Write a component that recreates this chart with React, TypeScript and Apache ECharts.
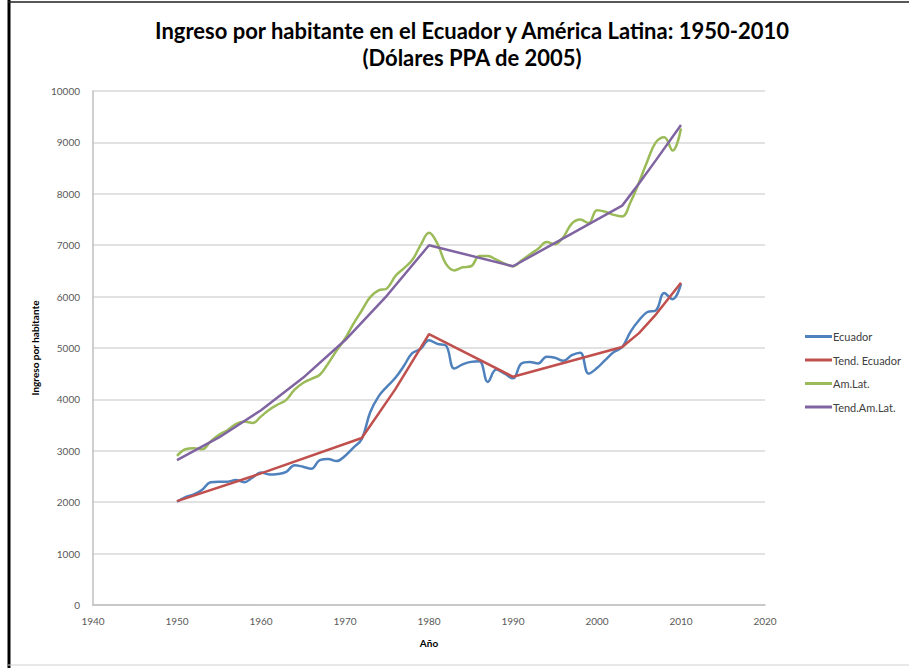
import { useEffect, useRef } from 'react';
import * as echarts from 'echarts';

// Annual series 1950-2010
const years = [
  1950, 1951, 1952, 1953, 1954, 1955, 1956, 1957, 1958, 1959,
  1960, 1961, 1962, 1963, 1964, 1965, 1966, 1967, 1968, 1969,
  1970, 1971, 1972, 1973, 1974, 1975, 1976, 1977, 1978, 1979,
  1980, 1981, 1982, 1983, 1984, 1985, 1986, 1987, 1988, 1989,
  1990, 1991, 1992, 1993, 1994, 1995, 1996, 1997, 1998, 1999,
  2000, 2001, 2002, 2003, 2004, 2005, 2006, 2007, 2008, 2009,
  2010,
];

const ecuador = [
  2010, 2100, 2150, 2240, 2390, 2400, 2400, 2430, 2390, 2480,
  2580, 2540, 2550, 2590, 2720, 2690, 2650, 2820, 2840, 2800,
  2900, 3060, 3230, 3750, 4060, 4250, 4420, 4650, 4900, 4980,
  5150, 5080, 5050, 4600, 4680, 4730, 4740, 4340, 4580, 4500,
  4410, 4700, 4730, 4700, 4830, 4810, 4750, 4860, 4910, 4500,
  4610, 4770, 4920, 5020, 5320, 5540, 5700, 5730, 6070, 5950,
  6250,
];

const amLat = [
  2900, 3030, 3050, 3030, 3180, 3310, 3400, 3520, 3570, 3540,
  3670, 3800, 3900, 3990, 4190, 4320, 4400, 4480, 4700, 4950,
  5180, 5470, 5730, 5990, 6120, 6160, 6400, 6550, 6710, 7000,
  7240, 7030, 6640, 6510, 6570, 6590, 6790, 6790, 6720, 6640,
  6590, 6700, 6820, 6930, 7060, 7020, 7160, 7420, 7500, 7430,
  7680, 7650, 7590, 7560, 7840, 8220, 8640, 9000, 9100, 8840,
  9270,
];

// Trend lines (break points)
const tendEcuadorYears = [1950, 1960, 1972, 1976, 1980, 1990, 2003, 2005, 2007, 2010];
const tendEcuador = [2020, 2560, 3250, 4200, 5270, 4440, 5020, 5290, 5650, 6270];

const tendAmLatYears = [1950, 1955, 1960, 1965, 1970, 1975, 1980, 1990, 2003, 2005, 2007, 2010];
const tendAmLat = [2820, 3260, 3790, 4420, 5150, 6020, 7000, 6590, 7770, 8200, 8650, 9340];

const seriesNames = ['Ecuador', 'Tend. Ecuador', 'Am.Lat.', 'Tend.Am.Lat.'];
const seriesColors = ['#4F81BD', '#C0504D', '#9BBB59', '#8064A2'];

const xTicks = [1940, 1950, 1960, 1970, 1980, 1990, 2000, 2010, 2020];

const zip = (xs: number[], ys: number[]) => xs.map((x, i) => [x, ys[i]]);

export default function App() {
  const chartRef = useRef<HTMLDivElement>(null);

  useEffect(() => {
    document.body.style.margin = '0';
    if (!chartRef.current) return;
    const chart = echarts.init(chartRef.current, undefined, { renderer: 'svg' });

    const labelStyle = {
      fontSize: 10,
      color: '#595959',
      fontFamily: 'Lato',
    };

    const option: echarts.EChartsOption = {
      animation: false,
      backgroundColor: '#ffffff',
      color: seriesColors,
      title: {
        text: 'Ingreso por habitante en el Ecuador y América Latina: 1950-2010\n(Dólares PPA de 2005)',
        left: 467,
        top: 12,
        textAlign: 'center',
        textStyle: {
          fontSize: 22,
          fontWeight: 'bold',
          color: '#000000',
          fontFamily: 'Lato',
          lineHeight: 27,
        },
      },
      legend: {
        orient: 'vertical',
        left: 800,
        top: 326,
        itemWidth: 27,
        itemHeight: 3,
        itemGap: 12.5,
        icon: 'rect',
        data: seriesNames,
        textStyle: {
          fontSize: 11,
          color: '#404040',
          fontFamily: 'Lato',
          padding: [0, 0, 0, -4],
        },
      },
      grid: {
        left: 93,
        right: 144,
        top: 91,
        bottom: 63,
      },
      xAxis: {
        type: 'value',
        min: 1940,
        max: 2020,
        interval: 10,
        name: 'Año',
        nameLocation: 'middle',
        nameGap: 33,
        nameTextStyle: {
          fontSize: 10,
          fontWeight: 'bold',
          color: '#000000',
          fontFamily: 'Lato',
        },
        axisLine: { show: true, lineStyle: { color: '#bfbfbf', width: 1.5 } },
        axisTick: { show: false },
        splitLine: { show: false },
        axisLabel: {
          ...labelStyle,
          margin: 11,
          formatter: (v: number) => (xTicks.includes(v) ? String(v) : ''),
        },
      },
      yAxis: {
        type: 'value',
        min: 0,
        max: 10000,
        interval: 1000,
        name: 'Ingreso por habitante',
        nameLocation: 'middle',
        nameGap: 50,
        nameTextStyle: {
          fontSize: 10,
          fontWeight: 'bold',
          color: '#000000',
          fontFamily: 'Lato',
        },
        axisLine: { show: true, lineStyle: { color: '#bfbfbf', width: 1.5 } },
        axisTick: { show: false },
        splitLine: { show: true, lineStyle: { color: '#d9d9d9', width: 1.5 } },
        axisLabel: { ...labelStyle, margin: 13, formatter: (v: number) => String(v) },
      },
      series: [
        {
          name: seriesNames[0],
          type: 'line',
          data: zip(years, ecuador),
          smooth: 0.4,
          symbol: 'none',
          lineStyle: { width: 2.5, color: seriesColors[0] },
          itemStyle: { color: seriesColors[0] },
          z: 2,
        },
        {
          name: seriesNames[1],
          type: 'line',
          data: zip(tendEcuadorYears, tendEcuador),
          symbol: 'none',
          lineStyle: { width: 2.5, color: seriesColors[1] },
          itemStyle: { color: seriesColors[1] },
          z: 3,
        },
        {
          name: seriesNames[2],
          type: 'line',
          data: zip(years, amLat),
          smooth: 0.4,
          symbol: 'none',
          lineStyle: { width: 2.5, color: seriesColors[2] },
          itemStyle: { color: seriesColors[2] },
          z: 2,
        },
        {
          name: seriesNames[3],
          type: 'line',
          data: zip(tendAmLatYears, tendAmLat),
          symbol: 'none',
          lineStyle: { width: 2.5, color: seriesColors[3] },
          itemStyle: { color: seriesColors[3] },
          z: 3,
        },
      ],
      graphic: [
        // outer frame
        { type: 'line', shape: { x1: 9, y1: 0, x2: 9, y2: 668 }, style: { stroke: '#000000', lineWidth: 3 } },
        { type: 'line', shape: { x1: 8, y1: 2, x2: 909, y2: 2 }, style: { stroke: '#202020', lineWidth: 1.5 } },
        { type: 'line', shape: { x1: 8, y1: 665, x2: 909, y2: 665 }, style: { stroke: '#d0d0d0', lineWidth: 1 } },
      ],
    };

    chart.setOption(option);

    return () => {
      chart.dispose();
    };
  }, []);

  return <div ref={chartRef} style={{ width: 909, height: 668 }} />;
}
